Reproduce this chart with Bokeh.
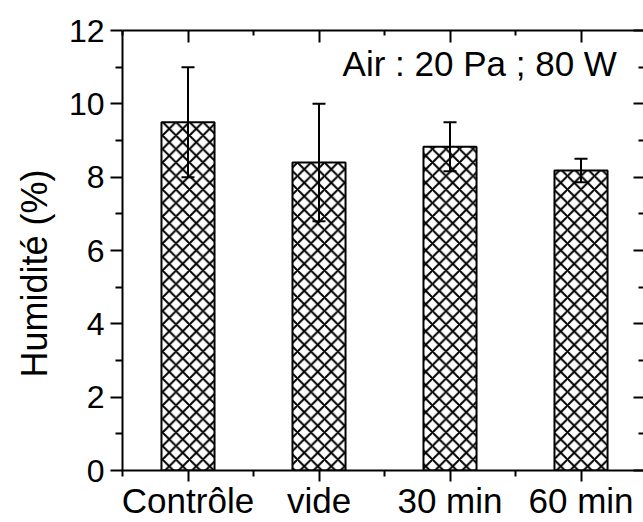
from bokeh.plotting import figure
from bokeh.models import (Range1d, FixedTicker, LinearAxis, Whisker, ColumnDataSource,
                          TeeHead, Label, Title)
from bokeh.embed import file_html
from bokeh.resources import INLINE

categories = ["Contrôle", "vide", "30 min", "60 min"]
humidity = [9.5, 8.4, 8.83, 8.18]
error = [1.5, 1.6, 0.67, 0.32]
y_major = [0, 2, 4, 6, 8, 10, 12]
y_minor = [1, 3, 5, 7, 9, 11]
y_title = "Humidité (%)"
annotation = "Air : 20 Pa ; 80 W"

xpos = list(range(1, len(categories) + 1))
x_minor = [i - 0.5 for i in xpos] + [len(categories) + 0.5]
src = ColumnDataSource(dict(
    x=xpos, top=humidity,
    upper=[h + e for h, e in zip(humidity, error)],
    lower=[h - e for h, e in zip(humidity, error)],
))

FONT = "Liberation Sans"

p = figure(width=643, height=522, output_backend="svg", toolbar_location=None,
           x_range=Range1d(0.5, 4.477), y_range=Range1d(0, 12),
           min_border_left=122, min_border_top=30, min_border_right=0,
           min_border_bottom=0)
p.outline_line_color = None
p.xgrid.visible = False
p.ygrid.visible = False
p.background_fill_color = "white"
p.border_fill_color = "white"

p.vbar(x="x", top="top", width=0.405, source=src, fill_color="white",
       line_color="black", line_width=2, hatch_pattern="diagonal_cross",
       hatch_scale=13.5, hatch_weight=2, hatch_color="black")

wh = Whisker(base="x", upper="upper", lower="lower", source=src, line_width=2,
             line_color="black", level="overlay",
             upper_head=TeeHead(size=13, line_width=2, line_color="black"),
             lower_head=TeeHead(size=13, line_width=2, line_color="black"))
p.add_layout(wh)

p.add_layout(Label(x=2.18, y=11.1, text=annotation, text_font=FONT,
                   text_font_size="35px", text_baseline="alphabetic",
                   text_color="black"))

xticker = FixedTicker(ticks=xpos, minor_ticks=x_minor)
yticker = FixedTicker(ticks=y_major, minor_ticks=y_minor)

xa = p.xaxis[0]
xa.ticker = xticker
xa.major_label_overrides = {x: c for x, c in zip(xpos, categories)}
ya = p.yaxis[0]
ya.ticker = yticker

for ax in (xa, ya):
    ax.axis_line_width = 2
    ax.axis_line_color = "black"
    ax.major_tick_line_width = 2
    ax.minor_tick_line_width = 2
    ax.major_tick_line_color = "black"
    ax.minor_tick_line_color = "black"
    ax.major_tick_in = 0
    ax.minor_tick_in = 0
    ax.major_label_text_font = FONT
    ax.major_label_text_color = "black"
xa.major_tick_out = 11
xa.minor_tick_out = 6
xa.major_label_text_font_size = "35px"
xa.major_label_standoff = -1
ya.major_tick_out = 12
ya.minor_tick_out = 7
ya.major_label_text_font_size = "32px"
ya.major_label_standoff = 6

p.add_layout(Title(text=y_title, text_font=FONT, text_font_size="36px",
                   text_font_style="normal", text_color="black",
                   align="left", offset=93, standoff=22), "left")


def tick_only_axis(ticks, length, line=False):
    return LinearAxis(ticker=FixedTicker(ticks=[], minor_ticks=ticks),
                      major_tick_in=0, major_tick_out=0,
                      minor_tick_in=length, minor_tick_out=0,
                      minor_tick_line_width=2, minor_tick_line_color="black",
                      axis_line_width=2,
                      axis_line_color="black" if line else None)


p.add_layout(tick_only_axis(xpos, 12, line=True), "above")
p.add_layout(tick_only_axis(x_minor, 5), "above")
p.add_layout(tick_only_axis(y_major, 10), "right")
p.add_layout(tick_only_axis(y_minor, 5), "right")

open("out.html", "w").write(file_html(p, INLINE))
